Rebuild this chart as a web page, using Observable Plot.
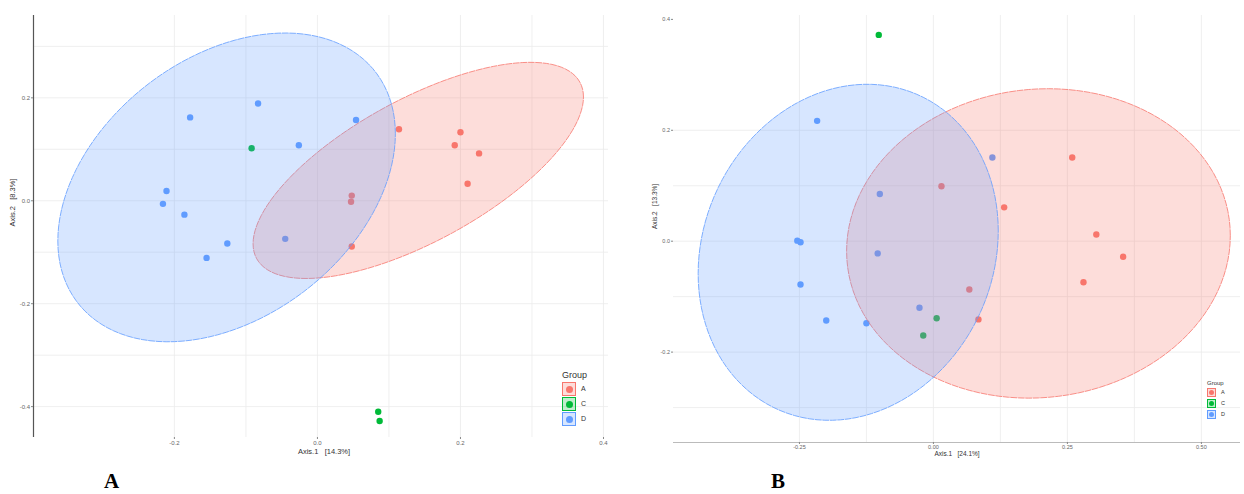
<!DOCTYPE html>
<html><head><meta charset="utf-8">
<script src="https://cdn.jsdelivr.net/npm/d3@7"></script>
<script src="https://cdn.jsdelivr.net/npm/@observablehq/plot@0.6"></script>
<style>
body{margin:0;background:#fff;width:1244px;height:494px;overflow:hidden;position:relative;font-family:"Liberation Sans",Arial,sans-serif}
.panel{position:absolute;top:0}
.tag{position:absolute;font-family:"Liberation Serif","DejaVu Serif",serif;font-weight:bold;font-size:21px;color:#000;line-height:1}
.leg{position:absolute;color:#333}
.leg .t{position:absolute;white-space:nowrap}
.leg .k{position:absolute;box-sizing:border-box}
.leg .k span{position:absolute;border-radius:50%}
.leg .l{position:absolute;white-space:nowrap}
</style></head><body>
<div id="A" class="panel" style="left:0px"></div>
<div id="B" class="panel" style="left:640px"></div>
<div class="tag" style="left:104px;top:471px">A</div>
<div class="tag" style="left:771px;top:471px">B</div>
<script>
// ---------- shared ----------
const groups = ["A", "C", "D"];
const groupColors = ["#F8766D", "#00BA38", "#619CFF"];

// ---------- Panel A data ----------
const aGroup = ["D","D","D","D","D","D","D","D","D","D","C","C","C","A","A","A","A","A","A","A","A"];
const aAxis1 = [-0.178,-0.083,-0.026,-0.211,-0.216,-0.186,0.054,-0.126,-0.155,-0.045,-0.092,0.085,0.087,0.114,0.200,0.192,0.226,0.210,0.048,0.047,0.048];
const aAxis2 = [0.162,0.189,0.108,0.019,-0.006,-0.027,0.157,-0.083,-0.111,-0.074,0.102,-0.410,-0.428,0.139,0.133,0.108,0.092,0.033,0.010,-0.002,-0.089];
const aXTicks = [-0.2, 0.0, 0.2, 0.4];
const aYTicks = [0.2, 0.0, -0.2, -0.4];
const aXGrid = [-0.2,-0.1,0,0.1,0.2,0.3,0.4];
const aYGrid = [0.3,0.2,0.1,0,-0.1,-0.2,-0.3,-0.4];
const aXTitle = "Axis.1   [14.3%]";
const aYTitle = "Axis.2   [8.3%]";
// ellipse summaries: group, centre, half-extents, correlation
const aEllGroup = ["A", "D"];
const aEllCx = [0.141, -0.127];
const aEllCy = [0.059, 0.026];
const aEllRx = [0.231, 0.236];
const aEllRy = [0.210, 0.300];
const aEllRho = [0.679, 0.347];

// ---------- Panel B data ----------
const bGroup = ["C","C","C","D","D","D","D","D","D","D","D","D","D","A","A","A","A","A","A","A","A"];
const bAxis1 = [-0.102,0.006,-0.019,-0.217,-0.100,0.110,-0.254,-0.248,-0.248,-0.104,-0.200,-0.125,-0.026,0.015,0.132,0.259,0.304,0.354,0.280,0.067,0.084];
const bAxis2 = [0.372,-0.139,-0.170,0.217,0.085,0.151,0.001,-0.002,-0.078,-0.022,-0.143,-0.148,-0.120,0.099,0.061,0.151,0.012,-0.028,-0.074,-0.087,-0.141];
const bXTicks = [-0.25, 0.00, 0.25, 0.50];
const bYTicks = [0.4, 0.2, 0.0, -0.2];
const bXGrid = [-0.25,-0.125,0,0.125,0.25,0.375,0.5];
const bYGrid = [0.2,0.1,0,-0.1,-0.2,-0.3];
const bXTitle = "Axis.1   [24.1%]";
const bYTitle = "Axis.2   [13.3%]";
const bEllGroup = ["A", "D"];
const bEllCx = [0.196, -0.159];
const bEllCy = [-0.004, -0.020];
const bEllRx = [0.358, 0.280];
const bEllRy = [0.279, 0.303];
const bEllRho = [0.05, 0.127];

// ---------- helpers ----------
const colorOf = g => groupColors[groups.indexOf(g)];
const fmt = n => d => (d < -1e-9 ? "-" : "") + Math.abs(d).toFixed(n);
function ellipsePts(cx, cy, rx, ry, rho) {
  const pts = [];
  const s = Math.sqrt(1 - rho * rho);
  for (let i = 0; i < 120; i++) {
    const t = (i / 120) * 2 * Math.PI;
    pts.push({x: cx + rx * Math.cos(t), y: cy + ry * (rho * Math.cos(t) + s * Math.sin(t))});
  }
  return pts;
}
function panel(opt) {
  const pts = opt.group.map((g, i) => ({group: g, x: opt.ax1[i], y: opt.ax2[i]}));
  const ellMarks = opt.eg.map((g, i) =>
    Plot.line(ellipsePts(opt.ecx[i], opt.ecy[i], opt.erx[i], opt.ery[i], opt.erho[i]), {
      x: "x", y: "y", curve: "linear-closed",
      fill: colorOf(g), fillOpacity: 0.25,
      stroke: colorOf(g), strokeWidth: 0.8, strokeDasharray: "6,1.5"
    }));
  return Plot.plot({
    width: opt.width, height: opt.height,
    marginLeft: opt.ml, marginRight: opt.mr, marginTop: opt.mt, marginBottom: opt.mb,
    style: {background: "#fff", fontFamily: "Liberation Sans, Arial, sans-serif", overflow: "visible"},
    x: {domain: opt.xd},
    y: {domain: opt.yd},
    color: {domain: groups, range: groupColors},
    marks: [
      Plot.gridX(opt.xg, {stroke: "#ebebeb", strokeOpacity: 1, strokeWidth: 0.8}),
      Plot.gridY(opt.yg, {stroke: "#ebebeb", strokeOpacity: 1, strokeWidth: 0.8}),
      opt.leftLine ? Plot.ruleX([opt.xd[0]], {stroke: "#555", strokeWidth: 1.2}) : null,
      opt.bottomLine ? Plot.ruleY([opt.yd[0]], {stroke: "#bbb", strokeWidth: 1}) : null,
      Plot.axisX(opt.xt, {tickSize: 2, tickPadding: 1, fontSize: opt.fs, fill: "#666", stroke: "#888", tickFormat: opt.xf, label: null}),
      Plot.axisY(opt.yt, {tickSize: 2, tickPadding: 1.5, fontSize: opt.fs, fill: "#666", stroke: "#888", tickFormat: opt.yf, label: null}),
      Plot.dot(pts, {x: "x", y: "y", fill: "group", r: 3.2, stroke: null}),
      ...ellMarks,
      Plot.text([opt.xTitle], {frameAnchor: "bottom", text: d => d, dy: opt.xTitleDy, fontSize: opt.tfs, fill: "#333", dx: opt.xTitleDx}),
      Plot.text([opt.yTitle], {frameAnchor: "left", text: d => d, rotate: -90, dx: opt.yTitleDx, fontSize: opt.tfs, fill: "#333"})
    ]
  });
}

document.getElementById("A").append(panel({
  group: aGroup, ax1: aAxis1, ax2: aAxis2,
  eg: aEllGroup, ecx: aEllCx, ecy: aEllCy, erx: aEllRx, ery: aEllRy, erho: aEllRho,
  width: 620, height: 465, ml: 33, mr: 12, mt: 15, mb: 28,
  xd: [-0.397, 0.407], yd: [-0.46, 0.36],
  xg: aXGrid, yg: aYGrid, xt: aXTicks, yt: aYTicks,
  xf: fmt(1), yf: fmt(1),
  fs: 6, tfs: 7.5, leftLine: true, bottomLine: false,
  xTitle: aXTitle, xTitleDy: 16, xTitleDx: 3, yTitle: aYTitle, yTitleDx: -21
}));
document.getElementById("B").append(panel({
  group: bGroup, ax1: bAxis1, ax2: bAxis2,
  eg: bEllGroup, ecx: bEllCx, ecy: bEllCy, erx: bEllRx, ery: bEllRy, erho: bEllRho,
  width: 604, height: 465, ml: 33, mr: 4, mt: 15, mb: 23,
  xd: [-0.485, 0.573], yd: [-0.363, 0.407],
  xg: bXGrid, yg: bYGrid, xt: bXTicks, yt: bYTicks,
  xf: fmt(2), yf: fmt(1),
  fs: 5.5, tfs: 6.5, leftLine: false, bottomLine: true,
  xTitle: bXTitle, xTitleDy: 13, xTitleDx: 0, yTitle: bYTitle, yTitleDx: -19
}));

// legends
function legend(left, top, keySize, step, titleSize, labelSize, dotR) {
  const div = document.createElement("div");
  div.className = "leg";
  div.style.left = left + "px"; div.style.top = top + "px";
  const t = document.createElement("div");
  t.className = "t"; t.textContent = "Group";
  t.style.fontSize = titleSize + "px"; t.style.left = "0px"; t.style.top = "0px";
  div.append(t);
  groups.forEach((g, i) => {
    const c = groupColors[i];
    const k = document.createElement("div");
    k.className = "k";
    const y0 = titleSize * 1.35 + i * step;
    k.style.cssText = `left:0px;top:${y0}px;width:${keySize}px;height:${keySize}px;border:1px solid ${c};background:${c}40`;
    const s = document.createElement("span");
    s.style.cssText = `left:${keySize / 2 - 1 - dotR}px;top:${keySize / 2 - 1 - dotR}px;width:${2 * dotR}px;height:${2 * dotR}px;background:${c}`;
    k.append(s);
    div.append(k);
    const l = document.createElement("div");
    l.className = "l"; l.textContent = g;
    l.style.cssText = `left:${keySize + 5}px;top:${y0 + keySize / 2 - labelSize * 0.6}px;font-size:${labelSize}px`;
    div.append(l);
  });
  document.body.append(div);
}
legend(562, 370, 14, 15, 9, 7, 3.5);
legend(1207, 380, 9, 10.8, 6, 5.5, 2.5);
</script>
</body></html>
